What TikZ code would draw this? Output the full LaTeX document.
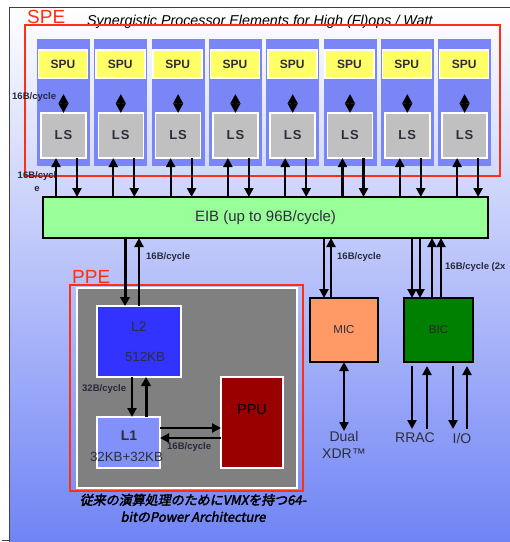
\documentclass[tikz,border=0pt]{standalone}
\usepackage{fontspec}
\setmainfont{Liberation Sans}
\newfontfamily\cjkfont[FakeSlant=0.2,FakeBold=2.5]{Noto Sans CJK JP}
\usetikzlibrary{arrows.meta,calc}
\definecolor{bgbot}{RGB}{112,132,245}
\definecolor{spered}{RGB}{255,48,16}
\definecolor{colblue}{RGB}{122,134,245}
\definecolor{spuyellow}{RGB}{255,255,102}
\definecolor{lsgray}{RGB}{192,192,192}
\definecolor{eibgreen}{RGB}{153,255,153}
\definecolor{ltwo}{RGB}{51,51,255}
\definecolor{lone}{RGB}{130,145,250}
\definecolor{ppured}{RGB}{153,0,0}
\definecolor{ppegray}{RGB}{128,128,128}
\definecolor{micorange}{RGB}{255,153,102}
\definecolor{bicgreen}{RGB}{0,128,0}
\definecolor{lbl}{RGB}{40,40,60}
\definecolor{dtext}{RGB}{45,45,60}
\newcommand\fsz[1]{\fontsize{#1}{#1}\selectfont}
\begin{document}
\begin{tikzpicture}[x=1pt,y=-1pt,
  box/.style={anchor=north west, inner sep=0pt, outer sep=0pt},
  wbox/.style={box, draw=white, line width=1.6pt},
  kbox/.style={box, draw=black, line width=2.4pt},
  arr/.style={line width=2.2pt, -{Triangle[width=9pt,length=9pt]}},
  thickarr/.style={line width=3pt, -{Triangle[width=9.5pt,length=9pt]}},
  dbl/.style={line width=2.2pt, {Triangle[width=9pt,length=9pt]}-{Triangle[width=9pt,length=9pt]}},
  dia/.style={line width=2.5pt, {Triangle[width=9.5pt,length=9.5pt]}-{Triangle[width=9.5pt,length=9.5pt]}},
  bw/.style={font=\bfseries\fsz{9.5}, text=lbl, inner sep=0pt, anchor=west},
  redlbl/.style={font=\fsz{19}, text=spered, inner sep=0pt, anchor=base west}
]
\useasboundingbox (0,0) rectangle (510,542);
\shade[top color=white, bottom color=bgbot] (9,7) rectangle (510,542);
\draw[line width=1pt, black!75] (9,542) -- (9,7) -- (510,7);
\draw[line width=1pt, black!75] (2,540) -- (9,540);

% SPE
\node[redlbl] (spelbl) at (27,23) {SPE};
\node[font=\itshape\fsz{14.3}, inner sep=0pt, anchor=base west] (title) at (87,25) {Synergistic Processor Elements for High (Fl)ops / Watt};
\draw[spered, line width=2pt] (25,25) rectangle (500,176);

% EIB
\node[kbox, fill=eibgreen, line width=2.6pt, minimum width=445pt, minimum height=41pt, font=\fsz{15}, text=dtext] (eib) at (43,197) {EIB (up to 96B/cycle)};

\foreach \i in {1,...,8}{
  \pgfmathsetmacro\cx{37+57.3*(\i-1)}
  \node[box, fill=colblue, minimum width=53pt, minimum height=127pt] (col\i) at (\cx,39) {};
  \node[wbox, fill=spuyellow, minimum width=49pt, minimum height=28pt, font=\bfseries\fsz{12}, text=dtext] (spu\i) at (\cx+1.5,50) {SPU};
  \node[wbox, fill=lsgray, minimum width=45pt, minimum height=45pt, font=\bfseries\fsz{13}, text=dtext] (ls\i) at (\cx+4,113) {L\kern1ptS};
}
\node[bw] (bwa) at (12,97) {16B/cycle};
\foreach \i in {1,...,8}{
  \pgfmathsetmacro\cx{37+57.3*(\i-1)}
  \draw[dia] ([yshift=-16pt]spu\i.south -| ls\i.north) -- (ls\i.north);
  \coordinate (up\i) at (\cx+19,0);
  \coordinate (dn\i) at (\cx+40,0);
  \draw[arr] (up\i |- eib.north) -- (up\i |- ls\i.south);
  \draw[arr] (dn\i |- ls\i.south) -- (dn\i |- eib.north);
}
\node[bw, anchor=center, align=center, font=\bfseries\fontsize{9.5}{13}\selectfont] (bwb) at (37,182) {16B/cycl\\e};

% PPE
\node[redlbl] (ppelbl) at (72,283) {PPE};
\draw[spered, line width=2pt] (70,285) rectangle (303,491);
\node[box, fill=ppegray, draw=white, line width=1.5pt, minimum width=220pt, minimum height=200pt] (ppe) at (77,288) {};
\node[wbox, fill=ltwo, line width=2.5pt, minimum width=84pt, minimum height=71pt] (l2) at (97,306) {};
\node[font=\fsz{14}, text=dtext, inner sep=0pt] (l2t) at (139,327) {L2};
\node[font=\fsz{13.3}, text=dtext, inner sep=0pt] (l2s) at (145,357) {512KB};
\node[wbox, fill=lone, line width=2.5pt, minimum width=63pt, minimum height=51pt] (l1) at (97,417) {};
\node[font=\bfseries\fsz{14}, text=dtext, inner sep=0pt] (l1t) at (129,436) {L1};
\node[font=\fsz{13.3}, text=dtext, inner sep=0pt] (l1s) at (126.5,457) {32KB+32KB};
\node[wbox, fill=ppured, line width=2.5pt, minimum width=62pt, minimum height=91pt] (ppu) at (221,377) {};
\node[font=\fsz{14.5}, text=black, inner sep=0pt] (pput) at (252,410) {PPU};

\coordinate (xl2a) at (125,0);
\coordinate (xl2b) at (139,0);
\draw[thickarr] (xl2a |- eib.south) -- (xl2a |- l2.north);
\draw[arr] (xl2b |- l2.north) -- (xl2b |- eib.south);
\node[bw] (bwc) at (146,257) {16B/cycle};

\coordinate (xl1a) at (132,0);
\coordinate (xl1b) at (146,0);
\draw[arr] (xl1a |- l2.south) -- (xl1a |- l1.north);
\draw[thickarr] (xl1b |- l1.north) -- (xl1b |- l2.south);
\node[bw] (bwd) at (82,389) {32B/cycle};

\coordinate (ya) at (0,428);
\coordinate (yb) at (0,438);
\draw[arr] (l1.east |- ya) -- (ppu.west |- ya);
\draw[arr] (ppu.west |- yb) -- (l1.east |- yb);
\node[bw] (bwe) at (167,447) {16B/cycle};

% MIC
\node[kbox, fill=micorange, minimum width=68pt, minimum height=64pt, font=\fsz{11.5}, text=dtext] (mic) at (310,298) {MIC};
\coordinate (xm1) at (324,0);
\coordinate (xm2) at (331,0);
\draw[arr] (xm1 |- eib.south) -- (xm1 |- mic.north);
\draw[arr] (xm2 |- mic.north) -- (xm2 |- eib.south);
\node[bw] (bwf) at (337,257) {16B/cycle};
\node[font=\fontsize{14}{17}\selectfont, text=dtext, align=center, inner sep=0pt, anchor=north] (dual) at (344,431) {Dual\\XDR™};
\draw[dbl] (mic.south) -- (dual.north);

% BIC
\node[kbox, fill=bicgreen, minimum width=69pt, minimum height=64pt, font=\fsz{11.5}, text=black!85] (bic) at (404,298) {BIC};
\foreach \xx/\nm in {412/ba,420/bb}{
  \coordinate (\nm) at (\xx,0);
  \draw[arr] (\nm |- eib.south) -- (\nm |- bic.north);
}
\foreach \xx/\nm in {432/bc,441/bd}{
  \coordinate (\nm) at (\xx,0);
  \draw[arr] (\nm |- bic.north) -- (\nm |- eib.south);
}
\node[bw] (bwg) at (445,267) {16B/cycle (2x};

\node[font=\fsz{14}, text=dtext, inner sep=0pt, anchor=north] (rrac) at (415,433) {RRAC};
\node[font=\fsz{14}, text=dtext, inner sep=0pt, anchor=north] (io) at (462,433) {I/O};
\coordinate (r1) at (412,0);
\coordinate (r2) at (427,0);
\coordinate (r3) at (453,0);
\coordinate (r4) at (467,0);
\draw[arr, shorten <=4pt] (r1 |- bic.south) -- ([yshift=4pt]r1 |- rrac.north);
\draw[arr, shorten >=4pt] ([yshift=4pt]r2 |- rrac.north) -- (r2 |- bic.south);
\draw[arr, shorten <=4pt] (r3 |- bic.south) -- ([yshift=4pt]r3 |- io.north);
\draw[arr, shorten >=4pt] ([yshift=4pt]r4 |- io.north) -- (r4 |- bic.south);

% caption
\node[font=\cjkfont\fontsize{13}{17}\selectfont, align=center, inner sep=0pt] (cap) at (193,508) {従来の演算処理のためにVMXを持つ64-\\bitのPower Architecture};
\end{tikzpicture}
\end{document}
